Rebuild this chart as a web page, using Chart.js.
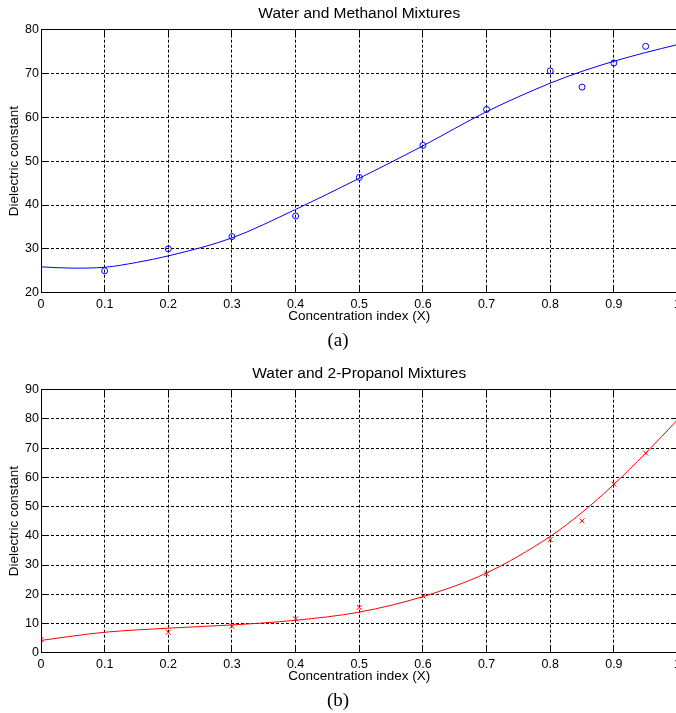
<!DOCTYPE html>
<html>
<head>
<meta charset="utf-8">
<script src="https://cdn.jsdelivr.net/npm/chart.js@4"></script>
<style>
  html, body { margin: 0; padding: 0; background: #fff; overflow: hidden; width: 676px; height: 713px; }
  .panel { position: absolute; left: 0; }
  .cap { position: absolute; left: 0; width: 676px; text-align: center;
         font-family: "Liberation Serif", "Times New Roman", serif; font-size: 19px;
         line-height: 20px; color: #000; }
</style>
</head>
<body>
<div class="panel" style="top:0px"><canvas id="chartA" width="685" height="330"></canvas></div>
<div class="cap" style="top:330px">(a)</div>
<div class="panel" style="top:360px"><canvas id="chartB" width="685" height="330"></canvas></div>
<div class="cap" style="top:690px">(b)</div>

<script>
// Measured dielectric constants (markers)
const methanolX   = [0.1, 0.2, 0.3, 0.4, 0.5, 0.6, 0.7, 0.8, 0.85, 0.9, 0.95];
const methanolEps = [25.0, 30.0, 32.8, 37.5, 46.3, 53.6, 61.8, 70.6, 66.9, 72.4, 76.2];

// Fitted curve for the methanol mixtures
const methanolFitX   = [0, 0.05, 0.1, 0.15, 0.2, 0.3, 0.4, 0.5, 0.6, 0.7, 0.8, 0.85, 0.9, 0.95, 1.0];
const methanolFitEps = [25.9, 25.6, 25.8, 26.9, 28.4, 32.5, 39.0, 46.1, 53.5, 61.3, 67.8, 70.5, 72.8, 74.8, 76.6];

const propanolX   = [0, 0.2, 0.3, 0.4, 0.5, 0.6, 0.7, 0.8, 0.85, 0.9, 0.95];
const propanolEps = [4.5, 7.0, 9.0, 11.6, 15.5, 19.4, 27.0, 38.7, 45.1, 57.7, 68.3];

// Fitted curve for the 2-propanol mixtures
const propanolFitX   = [0, 0.05, 0.1, 0.2, 0.3, 0.4, 0.5, 0.6, 0.7, 0.8, 0.85, 0.9, 0.95, 1.0];
const propanolFitEps = [4.2, 5.7, 7.0, 8.4, 9.5, 11.1, 13.9, 19.2, 27.3, 39.8, 48.0, 57.6, 68.3, 79.7];

// Tick labels
const xTickLabels  = ['0', '0.1', '0.2', '0.3', '0.4', '0.5', '0.6', '0.7', '0.8', '0.9', '1'];
const yTickLabelsA = ['20', '30', '40', '50', '60', '70', '80'];
const yTickLabelsB = ['0', '10', '20', '30', '40', '50', '60', '70', '80', '90'];

const titleA = 'Water and Methanol Mixtures';
const titleB = 'Water and 2-Propanol Mixtures';
const xLabel = 'Concentration index (X)';
const yLabel = 'Dielectric constant';

const FONT = '"Liberation Sans", Arial, sans-serif';

function pts(xs, ys) { return xs.map((x, i) => ({ x: x, y: ys[i] })); }

// Box around the axes, inward tick marks and a title centred on the plot area
const framePlugin = {
  id: 'frame',
  afterDraw(chart, args, opts) {
    const { ctx, chartArea: a, scales } = chart;
    const al = p => Math.round(p - 0.5) + 0.5;
    const L = al(a.left), R = al(a.right), T = al(a.top), B = al(a.bottom);
    const tl = 6;
    ctx.save();
    ctx.strokeStyle = '#000';
    ctx.lineWidth = 1;
    ctx.setLineDash([]);
    ctx.beginPath();
    ctx.moveTo(L, T); ctx.lineTo(R, T); ctx.lineTo(R, B); ctx.lineTo(L, B); ctx.closePath();
    scales.x.ticks.forEach(t => {
      const px = al(scales.x.getPixelForValue(t.value));
      ctx.moveTo(px, B); ctx.lineTo(px, B - tl);
      ctx.moveTo(px, T); ctx.lineTo(px, T + tl);
    });
    scales.y.ticks.forEach(t => {
      const py = al(scales.y.getPixelForValue(t.value));
      ctx.moveTo(L, py); ctx.lineTo(L + tl, py);
      ctx.moveTo(R, py); ctx.lineTo(R - tl, py);
    });
    ctx.stroke();
    if (opts.text) {
      ctx.fillStyle = '#000';
      ctx.font = opts.size + 'px ' + FONT;
      ctx.textAlign = 'center';
      ctx.textBaseline = 'middle';
      ctx.fillText(opts.text, (a.left + a.right) / 2, opts.y);
    }
    ctx.restore();
  }
};

function makeChart(id, cfg) {
  const tickFont = { family: FONT, size: 12.5 };
  const titleFont = { family: FONT, size: 13.5, lineHeight: 1.2 };
  return new Chart(document.getElementById(id), {
    type: 'scatter',
    data: {
      datasets: [
        {
          data: pts(cfg.fitX, cfg.fitY),
          showLine: true,
          borderColor: cfg.color,
          borderWidth: 1,
          pointRadius: 0,
          cubicInterpolationMode: 'monotone',
          fill: false,
          order: 2
        },
        {
          data: pts(cfg.x, cfg.y),
          showLine: false,
          pointStyle: cfg.marker,
          pointRadius: cfg.markerRadius,
          pointBorderWidth: 1,
          pointBorderColor: cfg.color,
          pointBackgroundColor: 'rgba(0,0,0,0)',
          order: 1
        }
      ]
    },
    options: {
      responsive: false,
      animation: false,
      devicePixelRatio: 1,
      layout: { padding: { left: 0, top: 29.7, right: 0, bottom: 0 } },
      plugins: {
        legend: { display: false },
        tooltip: { enabled: false },
        frame: { text: cfg.title, size: 15.5, y: 14 }
      },
      scales: {
        x: {
          type: 'linear', min: 0, max: 1,
          grid: { color: '#000', lineWidth: 1, drawTicks: false },
          border: { display: false, dash: [3, 2] },
          ticks: {
            stepSize: 0.1, padding: 4, color: '#000', font: tickFont, maxRotation: 0,
            callback: (v, i) => xTickLabels[i]
          },
          title: { display: true, text: xLabel, color: '#000', font: titleFont, padding: { top: 0, bottom: 6 } },
          afterFit: s => { s.height = 37.3; }
        },
        y: {
          type: 'linear', min: cfg.yMin, max: cfg.yMax,
          grid: { color: '#000', lineWidth: 1, drawTicks: false },
          border: { display: false, dash: [3, 2] },
          ticks: {
            stepSize: 10, padding: 2, color: '#000', font: tickFont,
            callback: (v, i) => cfg.yLabels[i]
          },
          title: { display: true, text: yLabel, color: '#000', font: titleFont, padding: { top: 6, bottom: 0 } },
          afterFit: s => { s.width = 41; }
        }
      }
    },
    plugins: [framePlugin]
  });
}

makeChart('chartA', {
  title: titleA, color: '#0000ff',
  x: methanolX, y: methanolEps, fitX: methanolFitX, fitY: methanolFitEps,
  marker: 'circle', markerRadius: 3,
  yMin: 20, yMax: 80, yLabels: yTickLabelsA
});

makeChart('chartB', {
  title: titleB, color: '#ff0000',
  x: propanolX, y: propanolEps, fitX: propanolFitX, fitY: propanolFitEps,
  marker: 'crossRot', markerRadius: 3.5,
  yMin: 0, yMax: 90, yLabels: yTickLabelsB
});
</script>
</body>
</html>
